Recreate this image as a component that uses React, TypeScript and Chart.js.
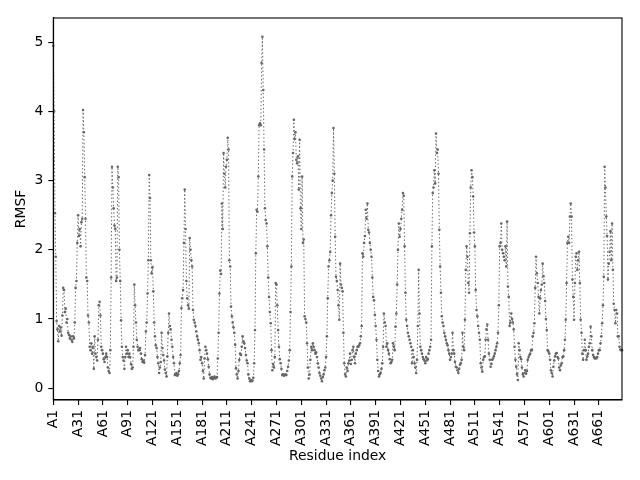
import { useEffect, useRef } from "react";
import { Chart, registerables, type ChartConfiguration, type Plugin } from "chart.js";

Chart.register(...registerables);

// RMSF per residue (A1–A230)
const rmsfA = [
  4.95, 4.0, 2.53, 1.9, 0.97, 0.85, 0.68, 0.9, 0.82, 0.88,
  0.76, 1.05, 1.45, 1.42, 1.1, 1.15, 0.95, 1.0, 0.8, 0.77,
  0.72, 0.75, 0.7, 0.67, 0.75, 0.72, 0.95, 1.45, 1.55, 2.1,
  2.5, 2.2, 2.3, 2.05, 2.4, 2.45, 4.02, 3.7, 3.05, 2.45,
  1.6, 1.55, 1.05, 0.95, 0.6, 0.55, 0.65, 0.5, 0.6, 0.28,
  0.75, 0.5, 0.45, 0.4, 0.7, 1.2, 1.25, 1.05, 0.6, 0.55,
  0.5, 0.42, 0.38, 0.45, 0.5, 0.45, 0.3, 0.25, 0.22, 0.55,
  1.6, 3.2, 2.9, 2.6, 2.35, 2.3, 1.55, 1.6, 3.2, 3.05,
  2.0, 1.55, 0.98, 0.6, 0.45, 0.4, 0.28, 0.45, 0.6, 0.5,
  0.55, 0.45, 0.5, 0.45, 0.35, 0.28, 0.3, 0.6, 1.5, 1.2,
  0.95, 0.7, 0.6, 0.55, 0.55, 0.58, 0.5, 0.42, 0.38, 0.4,
  0.37, 0.48, 0.82, 0.95, 1.37, 1.85, 3.08, 2.75, 1.85, 1.66,
  1.75, 1.4, 0.95, 0.75, 0.62, 0.58, 0.45, 0.36, 0.22, 0.3,
  0.38, 0.8, 0.58, 0.48, 0.4, 0.27, 0.22, 0.17, 0.46, 0.8,
  1.08, 0.9, 0.85, 0.7, 0.6, 0.45, 0.36, 0.19, 0.2, 0.22,
  0.18, 0.2, 0.25, 0.36, 0.48, 1.16, 1.3, 1.42, 2.1, 2.87,
  2.3, 1.55, 1.3, 1.2, 1.15, 2.17, 2.0, 1.85, 1.76, 1.13,
  0.99, 0.95, 0.9, 0.82, 0.75, 0.7, 0.65, 0.55, 0.41, 0.45,
  0.36, 0.25, 0.14, 0.43, 0.6, 0.55, 0.5, 0.42, 0.31, 0.2,
  0.15, 0.14, 0.16, 0.13, 0.15, 0.17, 0.14, 0.15, 0.16, 0.43,
  0.8, 1.37, 1.7, 1.65, 2.67, 2.3, 3.4, 3.1, 2.9, 3.2,
  3.3, 3.62, 3.45, 1.85, 1.76, 1.18, 1.04, 0.95, 0.88, 0.8,
  0.63, 0.29, 0.2, 0.14, 0.25, 0.41, 0.5, 0.48, 0.6, 0.75,
];

// A231–A460
const rmsfB = [
  0.68, 0.65, 0.58, 0.48, 0.4, 0.36, 0.2, 0.14, 0.1, 0.12,
  0.1, 0.11, 0.15, 0.36, 0.84, 1.95, 2.58, 2.55, 3.06, 3.8,
  3.83, 3.8, 4.7, 5.08, 4.31, 3.45, 2.6, 2.43, 2.38, 2.05,
  1.6, 1.32, 1.1, 0.94, 0.55, 0.26, 0.35, 0.3, 0.45, 1.52,
  1.5, 1.2, 0.84, 0.6, 0.42, 0.36, 0.28, 0.19, 0.2, 0.18,
  0.19, 0.2, 0.19, 0.25, 0.31, 0.4, 0.55, 1.1, 1.76, 3.06,
  3.4, 3.88, 3.6, 3.7, 3.3, 3.25, 3.35, 2.87, 3.59, 2.6,
  2.3, 3.06, 2.1, 2.15, 1.04, 1.0, 0.95, 0.65, 0.3, 0.14,
  0.2, 0.41, 0.6, 0.55, 0.65, 0.6, 0.55, 0.5, 0.52, 0.45,
  0.36, 0.3, 0.22, 0.18, 0.14, 0.1, 0.16, 0.2, 0.26, 0.3,
  0.45, 0.75, 1.3, 1.76, 1.85, 1.97, 2.5, 2.82, 3.0, 3.76,
  3.1, 2.19, 1.61, 1.55, 1.42, 1.2, 0.99, 1.8, 1.5, 1.45,
  1.4, 0.8, 0.36, 0.2, 0.17, 0.3, 0.25, 0.36, 0.4, 0.5,
  0.35, 0.41, 0.55, 0.6, 0.45, 0.36, 0.5, 0.55, 0.6, 0.6,
  0.62, 0.65, 0.75, 0.9, 1.95, 1.9, 2.1, 2.2, 2.58, 2.45,
  2.67, 2.29, 2.25, 2.1, 2.0, 1.9, 1.6, 1.32, 1.27, 1.06,
  0.9, 0.7, 0.41, 0.25, 0.17, 0.2, 0.22, 0.28, 0.36, 0.6,
  1.08, 0.95, 0.9, 0.6, 0.65, 0.55, 0.5, 0.42, 0.36, 0.38,
  0.41, 0.65, 0.6, 0.55, 0.89, 1.08, 1.5, 2.0, 2.38, 2.19,
  2.3, 2.45, 2.58, 2.82, 2.78, 2.05, 1.38, 0.99, 0.9, 0.8,
  0.75, 0.7, 0.65, 0.6, 0.36, 0.55, 0.45, 0.36, 0.3, 0.22,
  0.41, 0.9, 1.71, 1.08, 0.6, 0.55, 0.5, 0.45, 0.42, 0.4,
  0.36, 0.45, 0.4, 0.42, 0.5, 0.55, 0.6, 0.7, 2.05, 2.82,
];

// A461–A689
const rmsfC = [
  2.9, 3.15, 2.96, 3.68, 3.4, 3.45, 3.1, 2.29, 1.76, 1.38,
  1.04, 0.95, 0.9, 0.8, 0.75, 0.7, 0.65, 0.62, 0.55, 0.5,
  0.41, 0.45, 0.5, 0.8, 0.55, 0.5, 0.38, 0.31, 0.3, 0.26,
  0.22, 0.28, 0.34, 0.36, 0.41, 0.8, 0.6, 0.55, 0.99, 1.71,
  2.05, 1.9, 1.52, 1.38, 2.24, 2.9, 3.15, 3.05, 2.77, 2.25,
  2.05, 1.42, 1.13, 1.04, 0.9, 0.8, 0.7, 0.36, 0.3, 0.24,
  0.41, 0.45, 0.46, 0.7, 0.85, 0.92, 0.7, 0.5, 0.41, 0.31,
  0.35, 0.41, 0.43, 0.46, 0.5, 0.55, 0.6, 0.65, 0.8, 1.2,
  2.05, 2.1, 2.38, 2.0, 1.95, 1.9, 1.85, 2.05, 1.76, 2.41,
  1.47, 1.32, 0.9, 0.95, 1.08, 1.0, 0.95, 0.85, 0.6, 0.41,
  0.31, 0.2, 0.12, 0.65, 0.55, 0.45, 0.42, 0.3, 0.2, 0.17,
  0.22, 0.26, 0.21, 0.25, 0.41, 0.45, 0.48, 0.5, 0.55, 0.55,
  0.75, 0.8, 0.94, 1.45, 1.9, 1.66, 1.52, 1.32, 1.08, 1.3,
  1.42, 1.5, 1.8, 1.62, 1.52, 1.26, 1.0, 0.84, 0.55, 0.53,
  0.5, 0.41, 0.26, 0.22, 0.17, 0.31, 0.4, 0.46, 0.5, 0.51,
  0.45, 0.43, 0.3, 0.26, 0.33, 0.36, 0.45, 0.46, 0.55, 0.7,
  0.99, 1.52, 2.1, 2.19, 2.1, 2.48, 2.67, 2.48, 1.57, 1.32,
  0.99, 1.52, 1.9, 1.95, 1.71, 1.85, 1.97, 1.52, 0.99, 0.8,
  0.5, 0.41, 0.55, 0.7, 0.55, 0.41, 0.46, 0.5, 0.6, 0.65,
  0.89, 0.75, 0.55, 0.48, 0.45, 0.43, 0.44, 0.43, 0.45, 0.5,
  0.55, 0.55, 0.65, 0.75, 0.94, 1.2, 1.61, 3.2, 2.9, 2.48,
  2.2, 1.57, 1.8, 1.97, 2.27, 1.85, 2.38, 1.71, 1.22, 1.13,
  0.94, 1.13, 1.08, 0.75, 0.75, 0.6, 0.56, 0.55, 0.55,
];

const rmsf = [...rmsfA, ...rmsfB, ...rmsfC];
const residueLabels = rmsf.map((_, i) => `A${i + 1}`);
// every 30th residue gets a tick
const xTickIndices = [0, 30, 60, 90, 120, 150, 180, 210, 240, 270, 300, 330, 360, 390, 420, 450, 480, 510, 540, 570, 600, 630, 660];

const FONT = "'DejaVu Sans', sans-serif";

// full box round the plot, like matplotlib's spines
const framePlugin: Plugin<"line"> = {
  id: "frame",
  afterDraw(chart) {
    const { ctx, chartArea: a } = chart;
    ctx.save();
    ctx.strokeStyle = "#000";
    ctx.lineWidth = 1.1;
    ctx.strokeRect(a.left, a.top, a.right - a.left, a.bottom - a.top);
    ctx.restore();
  },
};

export default function App() {
  const canvasRef = useRef<HTMLCanvasElement>(null);

  useEffect(() => {
    if (!canvasRef.current) return;
    const cfg: ChartConfiguration<"line", number[], string> = {
      type: "line",
      data: {
        labels: residueLabels,
        datasets: [
          {
            data: rmsf,
            borderColor: "#666666",
            borderWidth: 1,
            borderDash: [1.4, 2.3],
            pointRadius: 1.3,
            pointBorderWidth: 0,
            pointBackgroundColor: "#666666",
            tension: 0,
            fill: false,
          },
        ],
      },
      options: {
        animation: false,
        responsive: true,
        maintainAspectRatio: false,
        layout: { padding: { top: 18, right: 18, left: 0, bottom: 0 } },
        plugins: { legend: { display: false }, tooltip: { enabled: false } },
        scales: {
          x: {
            type: "category",
            offset: false,
            afterBuildTicks: (scale) => {
              scale.ticks = xTickIndices.map((v) => ({ value: v }));
            },
            afterFit: (scale) => {
              scale.height = 80;
            },
            grid: {
              drawOnChartArea: false,
              drawTicks: true,
              tickLength: 5,
              color: "#000",
              lineWidth: 1.1,
            },
            border: { color: "#000", width: 1.1 },
            ticks: {
              autoSkip: false,
              minRotation: 90,
              maxRotation: 90,
              padding: 5,
              color: "#000",
              font: { family: FONT, size: 13.9 },
              callback: (value) => residueLabels[value as number],
            },
            title: {
              display: true,
              text: "Residue index",
              color: "#000",
              font: { family: FONT, size: 13.9 },
              padding: { top: 0, bottom: 14.9 },
            },
          },
          y: {
            min: -0.17,
            max: 5.35,
            afterFit: (scale) => {
              scale.width = 53.3;
            },
            grid: {
              drawOnChartArea: false,
              drawTicks: true,
              tickLength: 5,
              color: "#000",
              lineWidth: 1.1,
            },
            border: { color: "#000", width: 1.1 },
            ticks: {
              stepSize: 1,
              includeBounds: false,
              padding: 5,
              color: "#000",
              font: { family: FONT, size: 13.9 },
            },
            title: {
              display: true,
              text: "RMSF",
              color: "#000",
              font: { family: FONT, size: 13.9 },
              padding: { top: 12.6, bottom: 0 },
            },
          },
        },
      },
      plugins: [framePlugin],
    };
    const chart = new Chart(canvasRef.current, cfg);
    return () => chart.destroy();
  }, []);

  return (
    <div style={{ position: "absolute", left: 0, top: 0, width: 640, height: 480, background: "#fff" }}>
      <canvas ref={canvasRef} />
    </div>
  );
}
